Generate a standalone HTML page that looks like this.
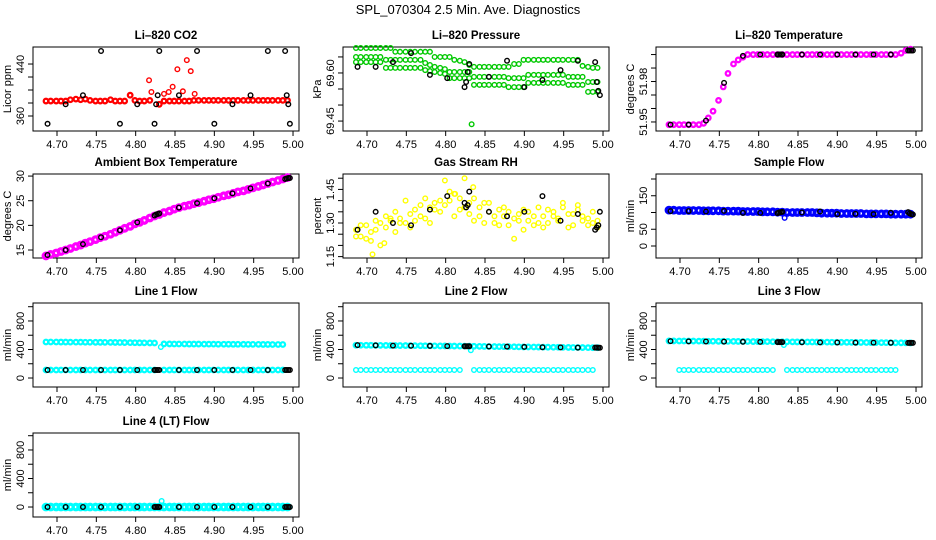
<!DOCTYPE html>
<html><head><meta charset="utf-8"><style>
html,body{margin:0;padding:0;background:#fff;}
svg{display:block;font-family:"Liberation Sans",sans-serif;}
</style></head><body>
<svg id="chart" width="936" height="540" viewBox="0 0 936 540" xmlns="http://www.w3.org/2000/svg">
<rect x="0" y="0" width="936" height="540" fill="#fff"/>
<text x="468" y="14" font-size="13" text-anchor="middle">SPL_070304  2.5 Min. Ave. Diagnostics</text>
</svg>
<script>
const t = [4.686,4.692,4.699,4.705,4.711,4.717,4.724,4.730,4.736,4.742,4.749,4.755,4.761,4.768,4.774,4.780,4.786,4.793,4.799,4.805,4.811,4.818,4.824,4.830,4.836,4.843,4.849,4.855,4.862,4.868,4.874,4.880,4.887,4.893,4.899,4.905,4.912,4.918,4.924,4.930,4.937,4.943,4.949,4.956,4.962,4.968,4.974,4.981,4.987,4.993];
const bt = [4.688,4.711,4.733,4.756,4.780,4.802,4.824,4.826,4.828,4.830,4.855,4.878,4.900,4.923,4.946,4.968,4.990,4.992,4.994,4.996];
const xTicks = [4.70,4.75,4.80,4.85,4.90,4.95,5.00];
const xTickLabels = ["4.70","4.75","4.80","4.85","4.90","4.95","5.00"];

const co2Red = [383,383,383,383,383,385,386,385,386,384,383,383,383,385,383,383,383,392,384,383,383,384,null,378,383,383,383,383,383,383,384,384,384,384,384,384,384,384,384,384,384,384,384,384,384,384,384,384,384,384];
const co2SpikeX = [4.817,4.820,4.836,4.842,4.847,4.853,4.860,4.865,4.870,4.875];
const co2SpikeY = [415,397,394,397,405,432,398,446,429,394];
const co2Black = [348,378,392,460,348,378,348,378,392,460,392,460,348,378,392,460,460,392,378,348];

const presTop = [69.678,69.678,69.678,69.678,69.678,69.678,69.678,69.678,69.666,69.666,69.666,69.666,69.666,69.666,69.666,69.666,69.650,69.650,69.650,69.650,69.641,69.638,69.634,69.625,69.619,69.619,69.619,69.619,69.619,69.619,69.619,69.619,69.628,69.628,69.641,69.641,69.641,69.641,69.641,69.641,69.641,69.641,69.641,69.641,69.641,69.641,69.622,69.619,69.616,69.616];
const presMid = [69.650,69.650,69.650,69.650,69.650,69.650,69.641,69.641,69.641,69.641,69.641,69.641,69.641,69.641,69.631,69.625,69.619,69.616,69.612,69.603,69.603,69.603,69.603,69.603,69.588,69.588,69.588,69.588,69.588,69.588,69.588,69.584,69.584,69.584,69.584,69.594,69.594,69.594,69.594,69.594,69.594,69.594,69.594,69.588,69.588,69.588,69.588,69.572,69.572,69.572];
const presLow = [69.634,69.634,69.634,69.634,69.634,69.634,69.616,69.616,69.616,69.616,69.616,69.616,69.616,69.616,69.609,69.606,69.603,69.600,69.597,69.584,69.584,69.584,69.584,69.584,69.563,69.563,69.563,69.563,69.563,69.563,69.563,69.556,69.556,69.556,69.556,69.569,69.569,69.569,69.569,69.569,69.569,69.569,69.569,69.563,69.563,69.563,69.563,69.541,69.541,69.541];
const presOutX = [4.833];
const presOutY = [69.44];
const presBlack = [69.619,69.619,69.634,69.662,69.594,69.584,69.556,69.572,69.603,69.628,69.588,69.638,69.556,69.578,69.609,69.638,69.634,69.572,69.544,69.531];

const tempMag = [51.948,51.948,51.948,51.948,51.948,51.948,51.948,51.949,51.953,51.958,51.966,51.976,51.986,51.993,51.996,51.998,52.000,52.000,52.000,52.000,52.000,52.000,52.000,52.000,52.000,52.000,52.000,52.000,52.000,52.000,52.000,52.000,52.000,52.000,52.000,52.000,52.000,52.000,52.000,52.000,52.000,52.000,52.000,52.000,52.000,52.000,52.000,52.001,52.003,52.004];
const tempBlack = [51.948,51.948,51.951,51.979,51.999,52.000,52.000,52.000,52.000,52.000,52.000,52.000,52.000,52.000,52.000,52.000,52.003,52.003,52.003,52.003];

const ambMag = [13.8,14.1,14.4,14.7,15.0,15.3,15.7,16.0,16.4,16.7,17.1,17.5,17.8,18.2,18.6,19.0,19.4,19.8,20.3,20.6,21.0,21.5,21.9,22.2,22.6,22.9,23.3,23.6,23.9,24.1,24.4,24.6,24.9,25.2,25.4,25.7,26.0,26.2,26.5,26.8,27.0,27.3,27.6,27.9,28.2,28.5,28.8,29.1,29.4,29.7];
const ambBlack = [14.0,15.0,16.2,17.6,19.0,20.6,22.0,22.2,22.3,22.4,23.6,24.5,25.5,26.5,27.5,28.5,29.4,29.5,29.6,29.6];

const rhA = [1.27,1.24,1.29,1.22,1.27,1.30,1.33,1.31,1.35,1.32,1.30,1.34,1.36,1.33,1.41,1.37,1.39,1.35,1.49,1.40,1.43,1.36,1.50,1.39,1.31,1.37,1.39,1.35,1.30,1.36,1.33,1.29,1.23,1.31,1.36,1.31,1.33,1.30,1.28,1.36,1.33,1.31,1.37,1.34,1.29,1.38,1.33,1.32,1.30,1.31];
const rhB = [1.24,1.29,1.23,1.26,1.31,1.20,1.28,1.32,1.26,1.30,1.40,1.28,1.31,1.38,1.32,1.30,1.36,1.40,1.38,1.44,1.33,1.41,1.37,1.34,1.41,1.33,1.30,1.39,1.33,1.29,1.37,1.35,1.32,1.34,1.27,1.35,1.29,1.37,1.33,1.30,1.35,1.32,1.39,1.28,1.34,1.36,1.31,1.29,1.35,1.28];
const rhExtraX = [4.707,4.722,4.835,4.812];
const rhExtraY = [1.16,1.21,1.46,1.43];
const rhBlack = [1.27,1.35,1.30,1.29,1.36,1.42,1.39,1.37,1.38,1.44,1.35,1.33,1.35,1.42,1.31,1.34,1.27,1.28,1.29,1.35];

const sfBlue = [107,107,106,106,106,106,106,105,105,105,105,104,104,104,104,103,103,103,103,102,102,102,101,101,100,100,100,100,100,100,99,98,98,98,98,97,97,97,97,97,96,96,96,96,96,95,95,95,95,95];
const sfOutX = [4.833];
const sfOutY = [84];
const sfBlack = [104,104,103,105,99,99,98,100,101,102,100,103,95,96,95,99,101,97,95,94];

const l1Top = [505,505,505,504,504,503,503,503,502,502,501,501,500,500,499,498,497,496,495,494,493,492,491,null,478,478,477,477,477,476,476,476,475,475,475,474,474,474,473,473,473,472,472,472,471,471,470,470,470,null];
const l1Low = [112,112,112,112,112,112,112,112,112,112,112,112,112,112,112,112,112,112,112,112,112,112,112,null,112,112,112,112,112,112,112,112,112,112,112,112,112,112,112,112,112,112,112,112,112,112,112,112,112,null];
const l1OutX = [4.832];
const l1OutY = [435];
const l1Black = [112,112,112,112,112,112,112,112,112,112,112,112,112,112,112,112,112,112,112,112];

const l2Top = [460,460,459,459,458,458,457,456,456,455,455,454,454,453,452,452,451,450,450,449,448,448,447,446,445,444,443,442,441,440,440,439,438,437,436,436,435,434,433,432,431,431,430,429,428,428,427,426,425,425];
const l2Low = [112,112,112,112,112,112,112,112,112,112,112,112,112,112,112,112,112,112,112,112,112,112,null,null,112,112,112,112,112,112,112,112,112,112,112,112,112,112,112,112,112,112,112,112,112,112,112,112,112,null];
const l2OutX = [4.832];
const l2OutY = [390];
const l2Black = [462,458,455,452,450,448,446,446,446,446,442,440,436,432,430,426,426,426,425,425];

const l3Top = [520,520,519,519,518,518,517,517,516,516,515,515,514,514,513,512,512,511,511,510,510,509,509,508,508,507,506,506,505,505,504,503,503,502,502,501,501,500,499,499,498,497,497,496,496,495,494,494,493,492];
const l3Low = [null,null,112,112,112,112,112,112,112,112,112,112,112,112,112,112,112,112,112,112,112,112,null,null,112,112,112,112,112,112,112,112,112,112,112,112,112,112,112,112,112,112,112,112,112,112,112,null,null,null];
const l3OutX = [4.832];
const l3OutY = [463];
const l3Black = [517,514,512,510,508,506,504,504,504,504,502,500,498,497,496,495,493,493,493,493];

const l4Cyan = [0,0,0,0,0,0,0,0,0,0,0,0,0,0,0,0,0,0,0,0,0,0,0,0,0,0,0,0,0,0,0,0,0,0,0,0,0,0,0,0,0,0,0,0,0,0,0,0,0,0];
const l4OutX = [4.833];
const l4OutY = [85];
const l4Black = [0,0,0,0,0,0,0,0,0,0,0,0,0,0,0,0,0,0,0,0];

const NS = "http://www.w3.org/2000/svg";
const svg = document.getElementById("chart");
const colLeft = [33,343,656];
const rowTop = [47,174,303,433];
const BW = 266, BH = 84;
const XLO = 4.6695, XHI = 5.0076;

function mk(tag, attrs, parent){
  const e = document.createElementNS(NS, tag);
  for (const k in attrs) e.setAttribute(k, attrs[k]);
  parent.appendChild(e);
  return e;
}

const panels = [
  {slug:"li820-co2",row:0,col:0,title:"Li\u2013820 CO2",ylab:"Licor ppm",dom:[336.9,466.2],ticks:[360,380,400,420,440],labels:{360:"360",440:"440"},
   series:[{x:t,y:co2Red,c:"#ff0000",dense:true},{x:co2SpikeX,y:co2SpikeY,c:"#ff0000"},{x:bt,y:co2Black,c:"#000"}]},
  {slug:"li820-pressure",row:0,col:1,title:"Li\u2013820 Pressure",ylab:"kPa",dom:[69.419,69.681],ticks:[69.45,69.50,69.55,69.60,69.65],labels:{"69.45":"69.45","69.6":"69.60"},
   series:[{x:t,y:presTop,c:"#00c800"},{x:t,y:presMid,c:"#00c800"},{x:t,y:presLow,c:"#00c800"},{x:presOutX,y:presOutY,c:"#00c800"},{x:bt,y:presBlack,c:"#000"}]},
  {slug:"li820-temperature",row:0,col:2,title:"Li\u2013820 Temperature",ylab:"degrees C",dom:[51.9433,52.0056],ticks:[51.95,51.96,51.97,51.98,51.99,52.00],labels:{"51.95":"51.95","51.98":"51.98"},
   series:[{x:t,y:tempMag,c:"#ff00ff",dense:true},{x:bt,y:tempBlack,c:"#000"}]},
  {slug:"ambient-box-temperature",row:1,col:0,title:"Ambient Box Temperature",ylab:"degrees C",dom:[13.38,30.42],ticks:[15,20,25,30],labels:{15:"15",20:"20",25:"25",30:"30"},
   series:[{x:t,y:ambMag,c:"#ff00ff",dense:true,big:true},{x:bt,y:ambBlack,c:"#000"}]},
  {slug:"gas-stream-rh",row:1,col:1,title:"Gas Stream RH",ylab:"percent",dom:[1.1438,1.5188],ticks:[1.15,1.20,1.25,1.30,1.35,1.40,1.45,1.50],labels:{"1.15":"1.15","1.3":"1.30","1.45":"1.45"},
   series:[{x:t,y:rhA,c:"#ffff00"},{x:t,y:rhB,c:"#ffff00"},{x:rhExtraX,y:rhExtraY,c:"#ffff00"},{x:bt,y:rhBlack,c:"#000"}]},
  {slug:"sample-flow",row:1,col:2,title:"Sample Flow",ylab:"ml/min",dom:[-35.8,214.9],ticks:[0,50,100,150,200],labels:{0:"0",50:"50",150:"150"},
   series:[{x:t,y:sfBlue,c:"#0000ff",dense:true,big:true},{x:sfOutX,y:sfOutY,c:"#0000ff"},{x:bt,y:sfBlack,c:"#000"}]},
  {slug:"line-1-flow",row:2,col:0,title:"Line 1 Flow",ylab:"ml/min",dom:[-126,1052],ticks:[0,200,400,600,800,1000],labels:{0:"0",400:"400",800:"800"},
   series:[{x:t,y:l1Top,c:"#00ffff",dense:true},{x:t,y:l1Low,c:"#00ffff",dense:true},{x:l1OutX,y:l1OutY,c:"#00ffff"},{x:bt,y:l1Black,c:"#000"}]},
  {slug:"line-2-flow",row:2,col:1,title:"Line 2 Flow",ylab:"ml/min",dom:[-126,1052],ticks:[0,200,400,600,800,1000],labels:{0:"0",400:"400",800:"800"},
   series:[{x:t,y:l2Top,c:"#00ffff",dense:true},{x:t,y:l2Low,c:"#00ffff"},{x:l2OutX,y:l2OutY,c:"#00ffff"},{x:bt,y:l2Black,c:"#000"}]},
  {slug:"line-3-flow",row:2,col:2,title:"Line 3 Flow",ylab:"ml/min",dom:[-126,1052],ticks:[0,200,400,600,800,1000],labels:{0:"0",400:"400",800:"800"},
   series:[{x:t,y:l3Top,c:"#00ffff",dense:true},{x:t,y:l3Low,c:"#00ffff"},{x:l3OutX,y:l3OutY,c:"#00ffff"},{x:bt,y:l3Black,c:"#000"}]},
  {slug:"line-4-flow",row:3,col:0,title:"Line 4 (LT) Flow",ylab:"ml/min",dom:[-140,1038],ticks:[0,200,400,600,800,1000],labels:{0:"0",400:"400",800:"800"},
   series:[{x:t,y:l4Cyan,c:"#00ffff",dense:true,big:true},{x:l4OutX,y:l4OutY,c:"#00ffff"},{x:bt,y:l4Black,c:"#000"}]}
];

panels.forEach(p => {
  const L = colLeft[p.col], T = rowTop[p.row];
  const xs = v => L + (v - XLO) / (XHI - XLO) * BW;
  const ys = v => T + BH - (v - p.dom[0]) / (p.dom[1] - p.dom[0]) * BH;
  const g = mk("g", {}, svg);
  
  

  const title = mk("text", {x: L + BW/2, y: T - 8, "font-size": 11.5, "font-weight": "bold", "text-anchor": "middle"}, g);
  title.textContent = p.title;
  
  

  const xa = mk("g", {}, g);
  
  
  mk("line", {x1: xs(xTicks[0]), x2: xs(xTicks[xTicks.length-1]), y1: T+BH, y2: T+BH, stroke: "#000", "stroke-width": 1}, xa);
  xTicks.forEach((v, i) => {
    const X = xs(v);
    mk("line", {x1: X, x2: X, y1: T+BH, y2: T+BH+5, stroke: "#000", "stroke-width": 1}, xa);
    const tl = mk("text", {x: X, y: T+BH+17, "font-size": 11, "text-anchor": "middle"}, xa);
    tl.textContent = xTickLabels[i];
    
    
  });

  const ya = mk("g", {}, g);
  
  
  mk("line", {x1: L, x2: L, y1: ys(p.ticks[0]), y2: ys(p.ticks[p.ticks.length-1]), stroke: "#000", "stroke-width": 1}, ya);
  p.ticks.forEach(v => {
    const Y = ys(v);
    mk("line", {x1: L-5, x2: L, y1: Y, y2: Y, stroke: "#000", "stroke-width": 1}, ya);
    const key = String(v);
    if (p.labels[key] !== undefined) {
      const tx = L - 9;
      const tl = mk("text", {x: tx, y: Y, "font-size": 11, "text-anchor": "middle", transform: "rotate(-90 " + tx + " " + Y + ")"}, ya);
      tl.textContent = p.labels[key];
      
      
    }
  });
  const ylx = L - 22, yly = T + BH/2;
  const yl = mk("text", {x: ylx, y: yly, "font-size": 11, "text-anchor": "middle", transform: "rotate(-90 " + ylx + " " + yly + ")"}, g);
  yl.textContent = p.ylab;
  
  

  const box = mk("rect", {x: L, y: T, width: BW, height: BH, fill: "none", stroke: "#000", "stroke-width": 1}, g);
  
  

  p.series.forEach(s => {
    const sg = mk("g", {}, g);
    
    
    const sw = s.big ? 3.2 : (s.dense ? 2.2 : 1.4);
    const r = s.big ? 2.8 : 2.3;
    s.y.forEach((v, i) => {
      if (v === null) return;
      const c = mk("circle", {cx: xs(s.x[i]), cy: ys(v), r: r, fill: "none", stroke: s.c, "stroke-width": sw}, sg);
      
      
    });
  });
});
</script>
</body></html>
